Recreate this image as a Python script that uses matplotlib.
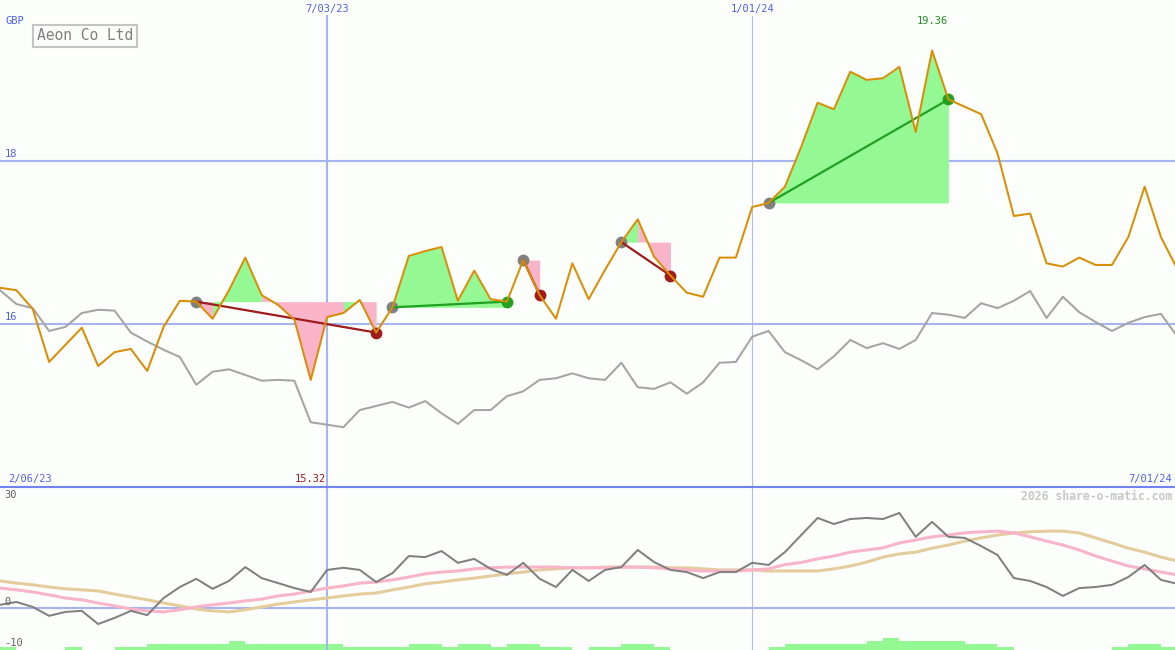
import matplotlib
matplotlib.use("Agg")
import matplotlib.pyplot as plt
import matplotlib.dates as mdates
import matplotlib.transforms as mtransforms
from matplotlib.lines import Line2D
import numpy as np
import pandas as pd

# weekly closes, Feb 2023 - Jul 2024
dates = pd.date_range("2023-02-13", periods=73, freq="7D")

price = [16.45, 16.42, 16.19, 15.54, 15.75, 15.96, 15.49, 15.66, 15.70, 15.43,
         15.97, 16.29, 16.28, 16.07, 16.42, 16.82, 16.36, 16.24, 16.06, 15.32,
         16.09, 16.14, 16.30, 15.90, 16.21, 16.84, 16.90, 16.95, 16.29, 16.66,
         16.31, 16.28, 16.79, 16.36, 16.07, 16.75, 16.31, 16.67, 17.01, 17.29,
         16.83, 16.60, 16.39, 16.34, 16.82, 16.82, 17.44, 17.49, 17.69, 18.18,
         18.72, 18.64, 19.10, 19.00, 19.02, 19.16, 18.36, 19.36, 18.76, 18.67,
         18.58, 18.10, 17.33, 17.36, 16.75, 16.71, 16.82, 16.73, 16.73, 17.07,
         17.69, 17.07, 16.68]

index_line = [16.42, 16.25, 16.20, 15.92, 15.97, 16.14, 16.18, 16.17, 15.90, 15.79,
              15.69, 15.60, 15.26, 15.42, 15.45, 15.38, 15.31, 15.32, 15.31, 14.80,
              14.77, 14.74, 14.95, 15.00, 15.05, 14.98, 15.06, 14.91, 14.78, 14.95,
              14.95, 15.12, 15.18, 15.32, 15.34, 15.40, 15.34, 15.32, 15.53, 15.23,
              15.21, 15.29, 15.15, 15.29, 15.53, 15.54, 15.85, 15.92, 15.66, 15.56,
              15.45, 15.61, 15.81, 15.71, 15.77, 15.70, 15.81, 16.14, 16.12, 16.08,
              16.26, 16.20, 16.29, 16.41, 16.08, 16.34, 16.15, 16.03, 15.92, 16.02,
              16.09, 16.13, 15.85]

momentum = [0.8, 1.6, 0.2, -2.3, -1.2, -0.9, -4.6, -2.9, -0.9, -2.1,
            2.7, 5.8, 8.1, 5.3, 7.5, 11.4, 8.3, 6.9, 5.5, 4.4,
            10.6, 11.2, 10.6, 7.2, 9.7, 14.5, 14.2, 15.9, 12.6, 13.7,
            10.9, 9.2, 12.6, 8.1, 5.8, 10.6, 7.5, 10.6, 11.4, 16.2,
            12.8, 10.6, 10.0, 8.3, 10.0, 10.0, 12.6, 12.0, 15.6, 20.4,
            25.2, 23.5, 24.9, 25.2, 24.9, 26.6, 19.9, 24.1, 19.9, 19.6,
            17.3, 14.8, 8.3, 7.5, 5.8, 3.3, 5.5, 5.8, 6.4, 8.6,
            12.0, 7.8, 6.7]

ma_fast = [5.5, 5.0, 4.4, 3.6, 2.7, 2.2, 1.3, 0.5, -0.4, -0.9,
           -1.2, -0.6, 0.2, 0.8, 1.3, 1.9, 2.4, 3.3, 3.8, 4.7,
           5.5, 6.1, 6.9, 7.2, 7.8, 8.6, 9.5, 10.0, 10.3, 10.9,
           11.2, 11.4, 11.4, 11.4, 11.4, 11.2, 11.2, 11.2, 11.4, 11.4,
           11.2, 10.9, 10.6, 10.3, 10.3, 10.3, 10.6, 10.9, 12.1, 12.7,
           13.7, 14.5, 15.6, 16.2, 16.8, 18.2, 19.0, 19.9, 20.4, 21.0,
           21.3, 21.5, 21.0, 19.9, 18.7, 17.6, 16.2, 14.5, 13.1, 11.7,
           10.9, 10.0, 9.2]

ma_slow = [7.5, 6.9, 6.4, 5.8, 5.3, 5.0, 4.7, 3.8, 3.0, 2.2,
           1.3, 0.5, -0.4, -0.9, -1.2, -0.6, 0.2, 1.0, 1.6, 2.2,
           2.7, 3.3, 3.8, 4.1, 5.0, 5.8, 6.7, 7.2, 7.8, 8.3,
           8.9, 9.5, 10.0, 10.6, 10.9, 11.2, 11.2, 11.4, 11.4, 11.4,
           11.4, 11.2, 11.2, 10.9, 10.6, 10.6, 10.6, 10.3, 10.3, 10.3,
           10.3, 10.9, 11.7, 12.8, 14.2, 15.1, 15.6, 16.7, 17.6, 18.7,
           19.6, 20.4, 21.0, 21.3, 21.5, 21.5, 21.0, 19.6, 18.2, 16.7,
           15.6, 14.2, 13.1]

volume = [1, 0, 0, 0, 1, 0, 0, 1, 1, 2,
          2, 2, 2, 2, 3, 2, 2, 2, 2, 2,
          2, 1, 1, 1, 1, 2, 2, 1, 2, 2,
          1, 2, 2, 1, 1, 0, 1, 1, 2, 2,
          1, 0, 0, 0, 0, 0, 0, 1, 2, 2,
          2, 2, 2, 3, 4, 3, 3, 3, 3, 2,
          2, 1, 0, 0, 0, 0, 0, 0, 1, 2,
          2, 1, 0]

# (entry week, exit week) as positions in the arrays above
trades = [(12, 23), (24, 31), (32, 33), (38, 41), (47, 58)]

grid_dates = ["2023-07-03", "2024-01-01"]
range_labels = ["2/06/23", "7/01/24"]
price_grid = [16, 18]
title = "Aeon Co Ltd"

BG = "#fbfefb"
BLUE = "#5060f0"
GRID = "#a8b4f0"
ORANGE = "#d98e06"
GAIN = "#94f994"
LOSS = "#f9b4c9"
MONO = "DejaVu Sans Mono"

fig = plt.figure(figsize=(11.75, 6.5), dpi=100)
fig.patch.set_facecolor(BG)
ax = fig.add_axes([0, 163 / 650, 1, 487 / 650])
ax2 = fig.add_axes([0, 0, 1, 163 / 650])
for a in (ax, ax2):
    a.set_facecolor(BG)
    a.axis("off")

x0 = mdates.date2num(dates[0])
for a in (ax, ax2):
    a.set_xlim(x0 - 0.02, x0 + 503.0)
ax.set_ylim(14.006, 19.98)
ax2.set_ylim(-11.9, 33.9)

# grid
for i, d in enumerate(pd.to_datetime(grid_dates)):
    lw, col = (1.5, GRID) if i == 0 else (0.8, "#b4bce8")
    ax.axvline(d, ymax=1 - 16 / 487, color=col, lw=lw, zorder=0)
    ax2.axvline(d, color=col, lw=lw, zorder=0)
    ax.text(d, 1 - 9 / 487, f"{d.month}/{d.day:02d}/{d:%y}",
            transform=mtransforms.blended_transform_factory(ax.transData, ax.transAxes),
            ha="center", va="center", color=BLUE, fontsize=7.5, family=MONO)
left_tr = mtransforms.blended_transform_factory(ax.transAxes, ax.transData)
for g in price_grid:
    ax.axhline(g, color=GRID, lw=1.5, zorder=0)
    ax.text(5 / 1175, g + 0.03, str(g), transform=left_tr, ha="left", va="bottom",
            color=BLUE, fontsize=7.5, family=MONO)
ax.text(5 / 1175, 1 - 21 / 487, "GBP", transform=ax.transAxes, ha="left", va="center",
        color=BLUE, fontsize=7.5, family=MONO)

# trades: shaded gain/loss against entry price
price_arr = np.array(price)
for s, e in trades:
    level = price[s]
    seg_up = [price[i + 1] >= level for i in range(s, e)]
    # group runs of same-coloured weeks so the fill has no seams
    a = 0
    while a < len(seg_up):
        b = a
        while b + 1 < len(seg_up) and seg_up[b + 1] == seg_up[a]:
            b += 1
        i0, i1 = s + a, s + b + 2
        ax.fill_between(dates[i0:i1], price_arr[i0:i1], level,
                        color=GAIN if seg_up[a] else LOSS, lw=0, zorder=1)
        a = b + 1
    win = price[e] >= level
    ax.plot([dates[s], dates[e]], [price[s], price[e]],
            color="#22a022" if win else "#a01c1c", lw=1.6, zorder=3)
    ax.plot(dates[s], price[s], "o", color="#808080", ms=8.5, mec="none", zorder=2)
    ax.plot(dates[e], price[e], "o", color="#22a022" if win else "#a01c1c", ms=8.5,
            mec="none", zorder=2)

ax.plot(dates, index_line, color="#a4a4a4", lw=1.45, zorder=2)
ax.plot(dates, price, color=ORANGE, lw=1.45, zorder=4)

imax, imin = int(np.argmax(price_arr)), int(np.argmin(price_arr))
xt = mtransforms.blended_transform_factory(ax.transData, ax.transAxes)
ax.text(dates[imax], 1 - 21 / 487, f"{price[imax]:.2f}", transform=xt, ha="center",
        va="center", color="#229022", fontsize=7.5, family=MONO)
ax.text(dates[imin], 8 / 487, f"{price[imin]:.2f}", transform=xt, ha="center",
        va="center", color="#a01c1c", fontsize=7.5, family=MONO)
ax.text(8 / 1175, 8 / 487, range_labels[0], transform=ax.transAxes, ha="left",
        va="center", color=BLUE, fontsize=7.5, family=MONO)
ax.text(1172 / 1175, 8 / 487, range_labels[1], transform=ax.transAxes, ha="right",
        va="center", color=BLUE, fontsize=7.5, family=MONO)

fig.text(37 / 1175, 1 - 36 / 650, title, ha="left", va="center", color="#808080",
         fontsize=10.5, family=MONO,
         bbox=dict(boxstyle="square,pad=0.25", fc=BG, ec="#c4c4c4", lw=1.5))

# separator between panels
fig.add_artist(Line2D([0, 1], [163.5 / 650, 163.5 / 650], color="#7282f0", lw=1.5))

# lower panel
ax2.axhline(0, color=GRID, lw=1.5, zorder=0)
vax = ax2.twinx()
vax.axis("off")
vax.set_ylim(0, 163 / 3)
vax.bar(dates, volume, width=7, align="edge", color=GAIN, lw=0, zorder=1)
ax2.plot(dates, ma_slow, color="#e4cc9c", lw=2.2, zorder=2)
ax2.plot(dates, ma_fast, color="#f8b4c8", lw=2.2, zorder=2)
ax2.plot(dates, momentum, color="#808080", lw=1.45, zorder=3)
ax2.set_zorder(vax.get_zorder() + 1)
ax2.patch.set_visible(False)

lt2 = mtransforms.blended_transform_factory(ax2.transAxes, ax2.transData)
for v, va in [(30, "bottom"), (0, "bottom"), (-10, "center")]:
    ax2.text(4 / 1175, v + (0.3 if va == "bottom" else 0), str(v), transform=lt2,
             ha="left", va=va, color="#606060", fontsize=7.5, family=MONO)
fig.text(1172 / 1175, 1 - 496 / 650, "2026 share-o-matic.com", ha="right", va="center",
         color="#c8c8c8", fontsize=8.3, fontweight="bold", family=MONO)

fig.savefig("out.png", dpi=100, facecolor=BG)
